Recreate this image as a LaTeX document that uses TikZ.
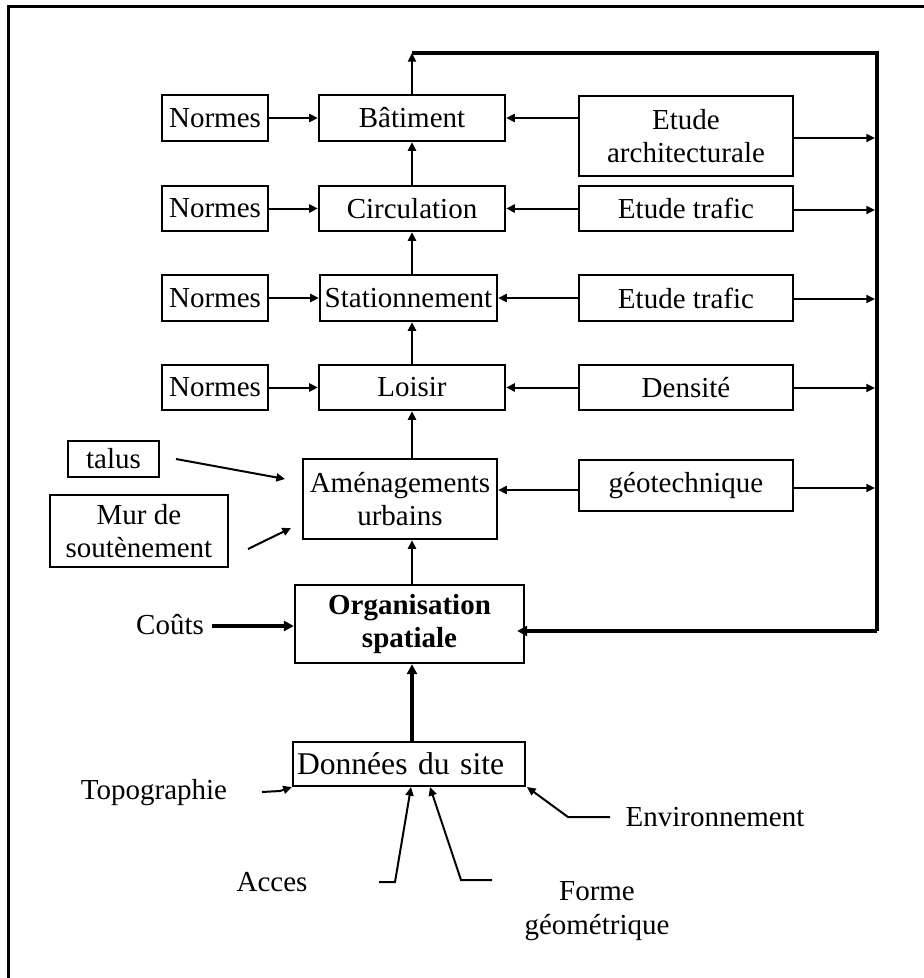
\documentclass[tikz,border=0pt]{standalone}
\usepackage{fontspec}
\setmainfont{Liberation Serif}
\usetikzlibrary{arrows.meta}
\begin{document}
\begin{tikzpicture}[x=0.75pt,y=-0.75pt,
  every node/.style={font=\fontsize{21.75}{25}\selectfont, inner sep=0pt},
  bx/.style 2 args={draw, line width=1.7pt, minimum width=#1*0.75pt, minimum height=#2*0.75pt, align=center},
  lbl/.style={align=center},
  arr/.style={line width=1.5pt, -{Triangle[length=6.5pt,width=6pt]}},
  thk/.style={line width=3pt, line join=miter},
  thkarr/.style={line width=3pt, -{Triangle[length=7.5pt,width=7.5pt]}},
]
\useasboundingbox (0,0) rectangle (924,978);
% outer frame
\draw[line width=2.25pt] (8,978) -- (8,6) -- (924,6);

% central chain
\node[bx={186}{46}] (bat) at (412,118) {Bâtiment};
\node[bx={186}{45}] (circ) at (412,208.5) {Circulation};
\node[bx={177}{46}] (stat) at (408.5,298) {Stationnement};
\node[bx={186}{45}] (loisir) at (412,387.5) {Loisir};
\node[bx={194}{80}] (amen) at (400,499) {Aménagements\\urbains};
\node[bx={229}{78}, font=\fontsize{21.75}{25}\selectfont\bfseries] (org) at (409.5,624) {Organisation\\spatiale};
\node[bx={232}{44}, text width=224*0.75pt, align=left, font=\fontsize{23.7}{28}\selectfont] (don) at (409,764) {Données du site};

% norms column
\node[bx={106}{46}] (n1) at (215,118) {Normes};
\node[bx={106}{45}] (n2) at (215,208.5) {Normes};
\node[bx={106}{46}] (n3) at (215,298) {Normes};
\node[bx={106}{45}] (n4) at (215,387.5) {Normes};
\node[bx={91}{36}] (talus) at (113.5,459) {talus};
\node[bx={178}{72}] (mur) at (139,531) {Mur de\\soutènement};

% studies column
\node[bx={214}{80}] (etA) at (686,136) {Etude\\architecturale};
\node[bx={214}{45}] (etT1) at (686,208.5) {Etude trafic};
\node[bx={214}{46}] (etT2) at (686,298) {Etude trafic};
\node[bx={214}{45}] (dens) at (686,387.5) {Densité};
\node[bx={214}{51}] (geo) at (686,485.5) {géotechnique};

% free labels
\node[lbl] (couts) at (170,625) {Coûts};
\node[lbl] (topo) at (154,793) {Topographie};
\node[lbl] (acces) at (272,882) {Acces};
\node[lbl] (forme) at (597,911) {Forme\\géométrique};
\node[lbl] (env) at (715,817) {Environnement};

% feedback loop coordinates
\coordinate (topL) at (412,53);
\coordinate (topR) at (877,53);
\coordinate (botR) at (877,631);
\coordinate (r1) at (875,138);
\coordinate (r2) at (875,210);
\coordinate (r3) at (875,299);
\coordinate (r4) at (875,388);
\coordinate (r5) at (875,488);
\coordinate (upx) at (412,0);

% vertical chain arrows
\draw[arr] (bat.north -| upx) -- (topL);
\draw[arr] (circ.north -| upx) -- (bat.south -| upx);
\draw[arr] (stat.north -| upx) -- (circ.south -| upx);
\draw[arr] (loisir.north -| upx) -- (stat.south -| upx);
\draw[arr] (amen.north -| upx) -- (loisir.south -| upx);
\draw[arr] (org.north -| upx) -- (amen.south -| upx);
\draw[thkarr] (don.north -| upx) -- (org.south -| upx);

% feedback loop
\draw[thk] (topL) -- (topR) -- (botR);
\draw[thkarr] (botR) -- ([xshift=-6pt]org.east |- botR);

% norms into chain
\draw[arr] (n1.east) -- (bat.west);
\draw[arr] (n2.east) -- (circ.west);
\draw[arr] (n3.east) -- (stat.west);
\draw[arr] (n4.east) -- (loisir.west);

% studies into chain
\draw[arr] (etA.west |- bat.east) -- (bat.east);
\draw[arr] (etT1.west) -- (circ.east);
\draw[arr] (etT2.west) -- (stat.east);
\draw[arr] (dens.west) -- (loisir.east);
\draw[arr] (geo.west |- 0,490) -- (amen.east |- 0,490);

% studies into loop
\draw[arr] (etA.east |- r1) -- (r1);
\draw[arr] (etT1.east |- r2) -- (r2);
\draw[arr] (etT2.east |- r3) -- (r3);
\draw[arr] (dens.east |- r4) -- (r4);
\draw[arr] (geo.east |- r5) -- (r5);

% slope and retaining wall
\coordinate (tA) at (176,459);
\coordinate (tB) at (285,479);
\coordinate (mA) at (248,549);
\coordinate (mB) at (291,528);
\draw[arr] (tA) -- (tB);
\draw[arr] (mA) -- (mB);

% costs
\coordinate (cA) at (212,626);
\draw[thkarr] (cA) -- (org.west |- cA);

% site data inputs
\coordinate (tpA) at (262,792);
\coordinate (tpB) at (280,791);
\draw[arr] (tpA) -- (tpB) -- (don.south west);
\coordinate (acA) at (379,882);
\coordinate (acB) at (395,882);
\coordinate (acC) at (411,787);
\draw[arr] (acA) -- (acB) -- (acC);
\coordinate (fmA) at (492,880);
\coordinate (fmB) at (461,880);
\coordinate (fmC) at (430,787);
\draw[arr] (fmA) -- (fmB) -- (fmC);
\coordinate (evA) at (610,817);
\coordinate (evB) at (568,817);
\coordinate (evC) at (527,787);
\draw[arr] (evA) -- (evB) -- (evC);
\end{tikzpicture}
\end{document}
